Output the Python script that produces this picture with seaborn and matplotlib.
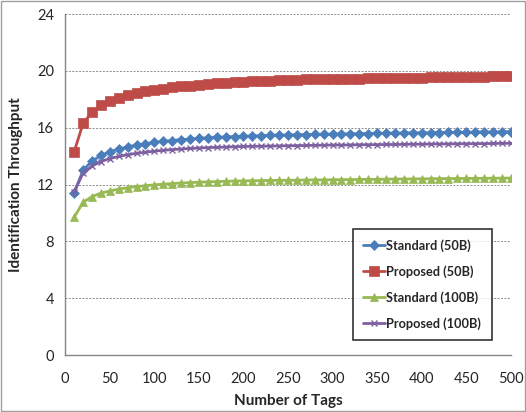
import numpy as np
import pandas as pd
import seaborn as sns
import matplotlib.pyplot as plt
from matplotlib.ticker import MultipleLocator

# Data (x = 10, 20, ..., 500)
num_tags = list(range(10, 510, 10))

standard_50b = [11.4, 13.0, 13.65, 14.05, 14.3, 14.5, 14.65, 14.78, 14.88, 14.97,
                15.04, 15.1, 15.16, 15.2, 15.25, 15.29, 15.32, 15.35, 15.38, 15.4,
                15.42, 15.44, 15.46, 15.48, 15.49, 15.5, 15.52, 15.53, 15.54, 15.55,
                15.56, 15.57, 15.58, 15.59, 15.6, 15.61, 15.62, 15.63, 15.64, 15.64,
                15.65, 15.66, 15.67, 15.67, 15.68, 15.69, 15.7, 15.7, 15.71, 15.72]

proposed_50b = [14.3, 16.3, 17.1, 17.6, 17.9, 18.1, 18.3, 18.45, 18.56, 18.66,
                18.75, 18.83, 18.9, 18.96, 19.02, 19.07, 19.12, 19.16, 19.2, 19.24,
                19.27, 19.3, 19.32, 19.34, 19.36, 19.38, 19.4, 19.41, 19.42, 19.43,
                19.44, 19.45, 19.46, 19.47, 19.48, 19.49, 19.5, 19.51, 19.52, 19.53,
                19.54, 19.55, 19.56, 19.57, 19.58, 19.59, 19.6, 19.61, 19.62, 19.63]

standard_100b = [9.7, 10.75, 11.15, 11.4, 11.55, 11.68, 11.78, 11.86, 11.92, 11.98,
                 12.03, 12.07, 12.11, 12.14, 12.17, 12.19, 12.21, 12.23, 12.25, 12.26,
                 12.27, 12.28, 12.29, 12.3, 12.3, 12.31, 12.32, 12.33, 12.33, 12.34,
                 12.35, 12.35, 12.36, 12.37, 12.37, 12.38, 12.39, 12.39, 12.4, 12.4,
                 12.41, 12.42, 12.42, 12.43, 12.43, 12.44, 12.44, 12.45, 12.45, 12.46]

proposed_100b = [11.5, 12.8, 13.3, 13.62, 13.83, 13.98, 14.1, 14.2, 14.28, 14.35,
                 14.41, 14.46, 14.5, 14.54, 14.57, 14.6, 14.62, 14.64, 14.66, 14.68,
                 14.69, 14.7, 14.71, 14.72, 14.73, 14.74, 14.75, 14.76, 14.77, 14.78,
                 14.78, 14.79, 14.8, 14.8, 14.81, 14.82, 14.82, 14.83, 14.84, 14.84,
                 14.85, 14.86, 14.86, 14.87, 14.87, 14.88, 14.88, 14.89, 14.9, 14.9]

series_names = ['Standard (50B)', 'Proposed (50B)', 'Standard (100B)', 'Proposed (100B)']
series_values = [standard_50b, proposed_50b, standard_100b, proposed_100b]

x_ticks = list(range(0, 550, 50))
y_ticks = list(range(0, 28, 4))

# Long-format table for seaborn
df = pd.concat([pd.DataFrame({'Number of Tags': num_tags, 'Throughput': vals, 'Series': name})
                for name, vals in zip(series_names, series_values)], ignore_index=True)

sns.set_style('white')
plt.rcParams['font.family'] = ['Lato', 'DejaVu Sans']

colors = ['#4A7EBB', '#BE4B48', '#98B954', '#7D60A0']
markers = ['D', 's', '^', 'x']
msizes = [5, 7, 6, 5]

fig = plt.figure(figsize=(5.26, 4.12), dpi=100)
ax = fig.add_axes([0.124, 0.138, 0.847, 0.828])

for name, c, m, ms in zip(series_names, colors, markers, msizes):
    sub = df[df['Series'] == name]
    sns.lineplot(data=sub, x='Number of Tags', y='Throughput', ax=ax, color=c,
                 marker=m, markersize=ms, linewidth=2, label=name,
                 markeredgecolor=c, markeredgewidth=1 if m == 'x' else 0.5)

ax.set_xlim(0, 500)
ax.set_ylim(0, 24)
ax.set_xticks(x_ticks)
ax.set_yticks(y_ticks)
ax.xaxis.set_minor_locator(MultipleLocator(10))
ax.tick_params(axis='x', which='both', direction='out', length=5, color='#868686',
               labelsize=10.5, pad=7)
ax.tick_params(axis='y', which='major', length=0, labelsize=10.5, pad=8)
ax.yaxis.grid(True, linestyle=(0, (2, 1.5)), color='#8c8c8c', linewidth=0.7)
for side in ['top', 'right']:
    ax.spines[side].set_visible(False)
for side in ['left', 'bottom']:
    ax.spines[side].set_color('#868686')
    ax.spines[side].set_linewidth(1)

ax.set_xlabel('Number of Tags', fontsize=11, fontweight='bold', labelpad=6)
ax.set_ylabel('Identification Throughput', fontsize=11, fontweight='bold', labelpad=10)

leg = ax.legend(loc='lower right', bbox_to_anchor=(0.957, 0.044), frameon=True, fancybox=False,
                edgecolor='black', labelspacing=1.05, handlelength=1.7,
                handletextpad=0.15, borderpad=0.8, borderaxespad=0,
                prop={'family': ['Lato', 'DejaVu Sans'], 'weight': 'bold', 'size': 9.2})
leg.get_frame().set_linewidth(1.2)

# light border around the whole figure
fig.patches.append(plt.Rectangle((0.002, 0.002), 0.996, 0.996, transform=fig.transFigure,
                                 fill=False, edgecolor='#a0a0a0', linewidth=1))

fig.savefig('out.png', dpi=100)
